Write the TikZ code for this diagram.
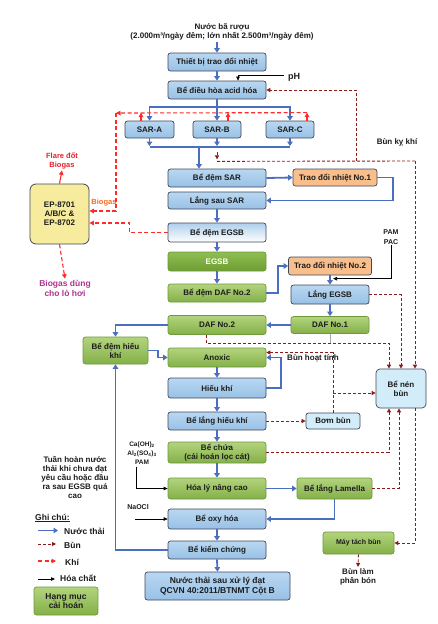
\documentclass[tikz,border=0pt]{standalone}
\usepackage{fontspec}
\setmainfont{Liberation Sans}
\usetikzlibrary{arrows.meta,calc}
\pgfdeclarelayer{background}
\pgfsetlayers{background,main}
\definecolor{wblue}{HTML}{4A6FC0}
\definecolor{sludgecol}{HTML}{8B1A1A}
\definecolor{gascol}{HTML}{FF2A2A}
\definecolor{boxline}{HTML}{404858}
\definecolor{bluetop}{HTML}{B9D7F1}
\definecolor{bluebot}{HTML}{98C1E6}
\definecolor{greenline}{HTML}{6E9A3A}
\definecolor{greentop}{HTML}{B3D47E}
\definecolor{greenbot}{HTML}{84B048}
\definecolor{darkgtop}{HTML}{8FBE52}
\definecolor{darkgbot}{HTML}{6D9D33}
\definecolor{orangefill}{HTML}{F8BE8C}
\definecolor{lightfill}{HTML}{D2ECF9}
\definecolor{epfill}{HTML}{F7EC9E}
\definecolor{egsbtop}{HTML}{AFCFEC}
\definecolor{shadowc}{HTML}{C4C4C4}
\definecolor{txt}{HTML}{1C1C1C}
\definecolor{flarecol}{HTML}{E8202A}
\definecolor{biogascol}{HTML}{F26B21}
\definecolor{boilercol}{HTML}{B0338F}
\begin{document}
\begin{tikzpicture}[x=1pt,y=1pt,
  every node/.style={font=\bfseries\fontsize{8}{9.2}\selectfont, text=txt},
  box/.style={draw=boxline, line width=0.7pt, rounded corners=2.5pt, align=center, inner sep=1pt},
  bbox/.style={box, top color=bluetop, bottom color=bluebot},
  gbox/.style={box, draw=greenline, top color=greentop, bottom color=greenbot},
  obox/.style={box, fill=orangefill},
  lbox/.style={box, fill=lightfill},
  lbl/.style={align=center, inner sep=1pt},
  water/.style={draw=wblue, line width=1.8pt, -{Triangle[length=4.5pt,width=5.5pt]}},
  sludge/.style={draw=sludgecol, line width=0.9pt, dash pattern=on 3pt off 2pt, -{Triangle[length=4pt,width=4pt]}},
  gas/.style={draw=gascol, line width=1.1pt, dash pattern=on 4pt off 2.5pt, -{Triangle[length=4.5pt,width=4.5pt]}},
  chem/.style={draw=black, line width=0.7pt, -{Triangle[length=4pt,width=3.5pt]}},
]
\fill[white] (0,0) rectangle (438,-624);
\useasboundingbox (0,0) rectangle (438,-624);

% ---------- nodes ----------
\node[lbl, font=\bfseries\fontsize{8}{9.5}\selectfont] (src) at (222,-32) {Nước bã rượu\\(2.000m³/ngày đêm; lớn nhất 2.500m³/ngày đêm)};
\node[bbox, minimum width=98pt, minimum height=18pt] (tb) at (217,-62) {Thiết bị trao đổi nhiệt};
\node[bbox, minimum width=98pt, minimum height=18pt] (dh) at (217,-90) {Bể điều hòa acid hóa};
\node[bbox, minimum width=49pt, minimum height=17pt] (sara) at (149.5,-129.5) {SAR-A};
\node[bbox, minimum width=48pt, minimum height=17pt] (sarb) at (217,-129.5) {SAR-B};
\node[bbox, minimum width=48pt, minimum height=17pt] (sarc) at (290,-129.5) {SAR-C};
\node[bbox, minimum width=98pt, minimum height=18pt] (dsar) at (217,-178) {Bể đệm SAR};
\node[obox, minimum width=84pt, minimum height=17pt] (tdn1) at (335,-177.5) {Trao đổi nhiệt No.1};
\node[bbox, minimum width=98pt, minimum height=17pt] (lsar) at (217,-200.5) {Lắng sau SAR};
\node[box, top color=egsbtop, bottom color=white, minimum width=98pt, minimum height=19pt] (degsb) at (217,-232.5) {Bể đệm EGSB};
\node[gbox, top color=darkgtop, bottom color=darkgbot, text=white, minimum width=98pt, minimum height=19pt] (egsb) at (217,-261.5) {EGSB};
\node[gbox, minimum width=98pt, minimum height=18pt] (ddaf2) at (217,-293) {Bể đệm DAF No.2};
\node[obox, minimum width=83pt, minimum height=18pt] (tdn2) at (330,-266) {Trao đổi nhiệt No.2};
\node[bbox, minimum width=78pt, minimum height=19pt] (legsb) at (330,-294.5) {Lắng EGSB};
\node[gbox, minimum width=78pt, minimum height=17pt] (daf1) at (330,-325) {DAF No.1};
\node[gbox, minimum width=98pt, minimum height=19pt] (daf2) at (217,-325) {DAF No.2};
\node[gbox, minimum width=65pt, minimum height=27pt] (ddhk) at (115.5,-350.5) {Bể đệm hiếu\\khí};
\node[gbox, minimum width=98pt, minimum height=19pt] (anoxic) at (217,-357.5) {Anoxic};
\node[bbox, minimum width=98pt, minimum height=20pt] (hk) at (217,-388) {Hiếu khí};
\node[bbox, minimum width=98pt, minimum height=18pt] (lhk) at (217,-421) {Bể lắng hiếu khí};
\node[gbox, minimum width=98pt, minimum height=21pt] (chua) at (217,-452.5) {Bể chứa\\(cải hoán lọc cát)};
\node[gbox, minimum width=98pt, minimum height=21pt] (hl) at (217,-488.5) {Hóa lý nâng cao};
\node[gbox, minimum width=75pt, minimum height=21pt] (lam) at (334.5,-488.5) {Bể lắng Lamella};
\node[bbox, minimum width=98pt, minimum height=20pt] (oxy) at (217,-519) {Bể oxy hóa};
\node[bbox, minimum width=98pt, minimum height=18pt] (kc) at (217,-550) {Bể kiểm chứng};
\node[bbox, minimum width=145pt, minimum height=28pt, font=\bfseries\fontsize{8.5}{9.5}\selectfont] (out) at (217.5,-586) {Nước thải sau xử lý đạt\\QCVN 40:2011/BTNMT Cột B};
\node[lbox, minimum width=54pt, minimum height=16pt] (bb) at (333,-421) {Bơm bùn};
\node[lbox, rounded corners=4pt, minimum width=50pt, minimum height=39pt] (nen) at (401,-388.5) {Bể nén\\bùn};
\node[gbox, minimum width=71pt, minimum height=22pt, font=\bfseries\fontsize{7}{8}\selectfont] (mtb) at (358.5,-543) {Máy tách bùn};
\node[box, fill=epfill, rounded corners=6pt, minimum width=59pt, minimum height=60pt, line width=0.8pt] (ep) at (59.5,-214) {EP-8701\\A/B/C \&\\EP-8702};

% labels
\node[lbl, font=\bfseries\fontsize{9}{10}\selectfont] (ph) at (294,-77) {pH};
\node[lbl, font=\bfseries\fontsize{7}{9.5}\selectfont] (pampac) at (391,-237) {PAM\\PAC};
\node[lbl] (bkk) at (397,-142) {Bùn kỵ khí};
\node[lbl] (bht) at (313,-358) {Bùn hoạt tính};
\node[lbl, text=flarecol, font=\bfseries\fontsize{7.5}{9}\selectfont] (flare) at (62,-161) {Flare đốt\\Biogas};
\node[lbl, text=biogascol, font=\bfseries\fontsize{7.5}{9}\selectfont] (biog) at (104,-203) {Biogas};
\node[lbl, text=boilercol, font=\bfseries\fontsize{8.5}{10}\selectfont] (boiler) at (65,-288) {Biogas dùng\\cho lò hơi};
\node[lbl, font=\bfseries\fontsize{6.5}{9}\selectfont] (chemi) at (142,-453) {Ca(OH)\textsubscript{2}\\Al\textsubscript{2}(SO\textsubscript{4})\textsubscript{3}\\PAM};
\node[lbl, font=\bfseries\fontsize{7}{8}\selectfont] (naocl) at (138,-507) {NaOCl};
\node[lbl] (phanbon) at (358,-576.5) {Bùn làm\\phân bón};
\node[lbl, font=\bfseries\fontsize{8}{9}\selectfont] (th) at (75,-477) {Tuần hoàn nước\\thải khi chưa đạt\\yêu cầu hoặc đầu\\ra sau EGSB quá\\cao};

% ---------- shadows ----------
\begin{pgfonlayer}{background}
\foreach \n in {tb,dh,sara,sarb,sarc,dsar,tdn1,lsar,tdn2,legsb,hk,lhk,oxy,kc,out,bb,nen}
  \fill[shadowc] ($(\n.north east)!0.45!(\n.south east)$) -- ++(15,0) -- ($(\n.south east)+(0,-2)$) -- cycle;
\fill[shadowc] ($(ep.north east)!0.55!(ep.south east)$) -- ++(46,0) -- ($(ep.south east)+(0,-3)$) -- cycle;
\end{pgfonlayer}

% ---------- water ----------
\draw[water] (src.south -| tb.north) -- (tb.north);
\draw[water] (tb.south) -- (dh.north);
\coordinate (dist) at (0,-107);
\draw[water] (dh.south) -- (sarb.north);
\draw[water] (sarb.north |- dist) -- (sara.north |- dist) -- (sara.north);
\draw[water] (sarb.north |- dist) -- (sarc.north |- dist) -- (sarc.north);
\coordinate (coll) at (0,-147);
\draw[water,-] (sara.south |- coll) -- (sarc.south |- coll);
\draw[water] (sara.south) -- ($(sara.south |- coll)+(0,1)$);
\draw[water] (sarb.south) -- ($(sarb.south |- coll)+(0,1)$);
\draw[water] (sarc.south) -- ($(sarc.south |- coll)+(0,1)$);
\coordinate (c199) at (199,-147);
\draw[water] (c199) -- (c199 |- dsar.north);
\draw[water] (dsar.east) -- (tdn1.west);
\draw[water] (tdn1.east) -- ++(16,0) |- (lsar.east);
\draw[water] (lsar.south) -- (degsb.north);
\draw[water] (degsb.south) -- (egsb.north);
\draw[water] (egsb.south) -- (ddaf2.north);
\draw[water] (ddaf2.east) -- ++(12,0) |- (tdn2.west);
\draw[water] (tdn2.south) -- (legsb.north);
\draw[water] (legsb.south) -- (daf1.north);
\draw[water] (daf1.west) -- (daf2.east);
\draw[water] (daf2.west) -| (ddhk.north);
\draw[water] (ddhk.east) -- ++(10,0) |- (anoxic.west);
\draw[water] (anoxic.south) -- (hk.north);
\draw[water] (hk.east) -- ++(15,0) |- (anoxic.east);
\draw[water] (hk.south) -- (lhk.north);
\draw[water] (lhk.south) -- (chua.north);
\draw[water] (chua.south) -- (hl.north);
\draw[water] (hl.east) -- (lam.west);
\draw[water] (lam.south) |- (oxy.east);
\draw[water] (oxy.south) -- (kc.north);
\draw[water] (kc.south) -- (out.north);
\draw[water] (kc.west) -| (ddhk.south);

% ---------- sludge ----------
\draw[sludge] ($(sarb.south)+(0,-14)$) -- ++(0,-7);
\coordinate (k1) at (415,-161);
\coordinate (k2) at (356,-161);
\draw[sludge,-] ($(sarb.south)+(0,-23)$) -- (k1);
\draw[sludge] (k1) -- (k1 |- nen.north);
\draw[sludge] (k2) |- (dh.east);
\draw[sludge] (legsb.east) -| (nen.north);
\coordinate (j1) at (389,-343);
\draw[sludge] ($(daf2.south)+(-11,0)$) |- (j1) -- (j1 |- nen.north);
\draw[gray!70, line width=0.9pt] (daf1.south) -- (daf1.south |- j1);
\draw[sludge] (bb.north) |- ($(anoxic.east)+(0,5)$);
\coordinate (j2) at (333,-393);
\draw[sludge] (j2) -- (j2 -| nen.west);
\draw[sludge] (lhk.east) -- (bb.west);
\draw[sludge] (chua.east) -| ($(nen.south)+(-12,0)$);
\draw[sludge] (lam.east) -| ($(nen.south)+(-2,0)$);
\draw[sludge] ($(nen.south)+(14,0)$) |- (mtb.east);
\draw[sludge] (mtb.south) -- (phanbon.north);

% ---------- gas ----------
\coordinate (g0) at (116,-113);
\draw[gas] ($(sarc.north)+(17,8)$) -- (g0);
\draw[gas,-] (g0) -- (116,-211);
\draw[gas] (116,-211) -- ($(ep.east)+(0,3)$);
\draw[gas, solid] ($(sara.north)+(-8.5,0)$) -- ++(0,8);
\draw[gas, solid] ($(sarb.north)+(11,0)$) -- ++(0,8);
\draw[gas, solid] ($(sarc.north)+(17,0)$) -- ++(0,8);
\draw[gas] (degsb.west) -- ++(-38,0) |- ($(ep.east)+(0,-9)$);
\draw[gas, solid] (ep.north) -- (flare.south);
\draw[gas] (ep.south) -- (boiler.north);

% ---------- chemicals ----------
\draw[chem] ($(ph.west)+(-3,2)$) -| ($(dh.north)+(21,0)$);
\draw[chem] (pampac.south) |- ($(legsb.north)+(3,6)$);
\draw[chem] ($(chemi.south)+(-6,-1)$) |- (hl.west);
\draw[chem] ($(naocl.south |- oxy.west)+(-3,0)$) -- (oxy.west);

% ---------- legend ----------
\node[lbl, anchor=west, font=\bfseries\fontsize{8.5}{9}\selectfont] (gc) at (34,-518) {\underline{Ghi chú:}};
\coordinate (l1a) at (38,-530.5); \coordinate (l1b) at (58,-530.5);
\draw[water] (l1a) -- (l1b);
\node[lbl, anchor=west, font=\bfseries\fontsize{8.5}{9}\selectfont] (lg1) at (63,-531) {Nước thải};
\coordinate (l2a) at (38,-544); \coordinate (l2b) at (56,-544);
\draw[sludge] (l2a) -- (l2b);
\node[lbl, anchor=west, font=\bfseries\fontsize{8.5}{9}\selectfont] (lg2) at (63,-545) {Bùn};
\coordinate (l3a) at (38,-561); \coordinate (l3b) at (56,-561);
\draw[gas] (l3a) -- (l3b);
\node[lbl, anchor=west, font=\bfseries\fontsize{8.5}{9}\selectfont] (lg3) at (64,-562) {Khí};
\coordinate (l4a) at (38,-579); \coordinate (l4b) at (55,-579);
\draw[chem] (l4a) -- (l4b);
\node[lbl, anchor=west, font=\bfseries\fontsize{8.5}{9}\selectfont] (lg4) at (59,-578) {Hóa chất};
\node[gbox, minimum width=64pt, minimum height=28pt, font=\bfseries\fontsize{8.5}{9.5}\selectfont] (hm) at (66,-601) {Hạng mục\\cải hoán};
\end{tikzpicture}
\end{document}
